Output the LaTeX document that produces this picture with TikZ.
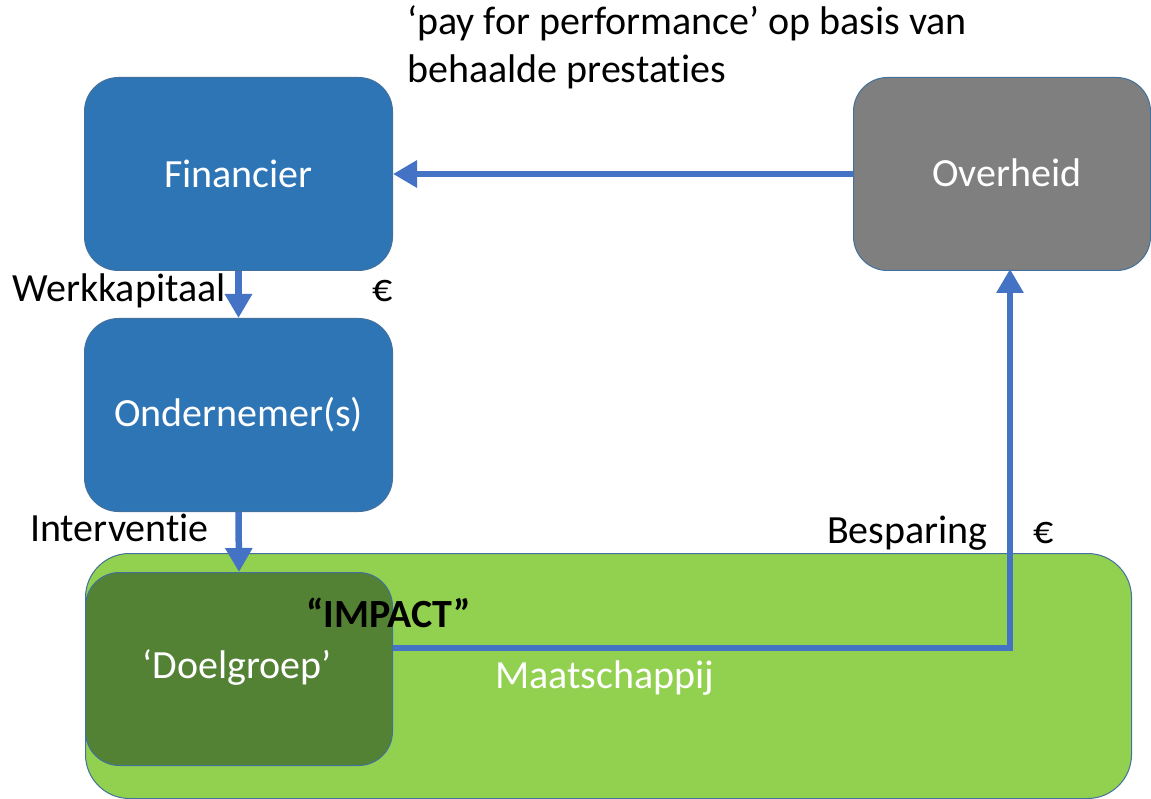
\documentclass[tikz,border=0pt]{standalone}
\usepackage{fontspec}
\setmainfont{Carlito}[Ligatures=NoCommon]
\usetikzlibrary{arrows.meta,positioning}
\definecolor{boxblue}{HTML}{2E75B6}
\definecolor{edgeblue}{HTML}{41719C}
\definecolor{boxgray}{HTML}{7F7F7F}
\definecolor{lightgreen}{HTML}{92D050}
\definecolor{darkgreen}{HTML}{548235}
\definecolor{arrowblue}{HTML}{4472C4}
\tikzset{
  box/.style={draw=edgeblue, line width=1pt, rounded corners=34pt, inner sep=0pt, text=white, font=\fontsize{40}{48}\selectfont},
  flow/.style={draw=arrowblue, line width=6.5pt, -{Triangle[length=24pt,width=26pt]}},
  lbl/.style={inner sep=0pt, font=\fontsize{40}{48}\selectfont},
}
\begin{document}
\begin{tikzpicture}[x=1pt,y=-1pt]
\useasboundingbox (0,0) rectangle (1151,799);
% society
\node[box, fill=lightgreen, rounded corners=44pt, minimum width=1046pt, minimum height=245pt, anchor=north west] (maat) at (85,553) {};
\node[box, fill=boxblue, minimum width=308pt, minimum height=193pt, anchor=north west] (fin) at (84,77) {Financier};
\node[box, fill=boxgray, minimum width=297pt, minimum height=193pt, anchor=north west] (over) at (853,77) {};
\node[lbl, text=white] (overtxt) at (1007,173) {Overheid};
\node[box, fill=boxblue, minimum width=308pt, minimum height=193pt, anchor=north west] (ond) at (84,318) {Ondernemer(s)};
\node[box, fill=darkgreen, minimum width=307pt, minimum height=193pt, anchor=north west] (doel) at (85,572) {};
\node[lbl, text=white, anchor=base] (doeltxt) at (237,678) {‘Doelgroep’};
\node[lbl, text=white, anchor=base west] (maattxt) at (495,688) {Maatschappij};
% labels
\node[lbl, anchor=base west, align=left, font=\fontsize{40}{48}\selectfont] (pay) at (407,83) {‘pay for performance’ op basis van\\behaalde prestaties};
\node[lbl, anchor=base west] (werk) at (12,302) {Werkkapitaal};
\node[lbl, anchor=base west] (euro1) at (372,302) {€};
\node[lbl, anchor=base west] (interv) at (30,541) {Interventie};
\node[lbl, anchor=base west] (besp) at (827,543) {Besparing};
\node[lbl, anchor=base west] (euro2) at (1033,543) {€};
% connectors
\draw[flow] (over.west) -- (fin.east);
\draw[flow] (fin.south) -- (ond.north);
\draw[flow] (ond.south) -- (doel.north);
\draw[flow, line join=miter] (doel.east |- 0,648) -- (1010,648) -- (1010,269);
\node[lbl, anchor=base west, font=\bfseries\fontsize{40}{48}\selectfont] (impact) at (306,627) {“IMPACT”};
\end{tikzpicture}
\end{document}
